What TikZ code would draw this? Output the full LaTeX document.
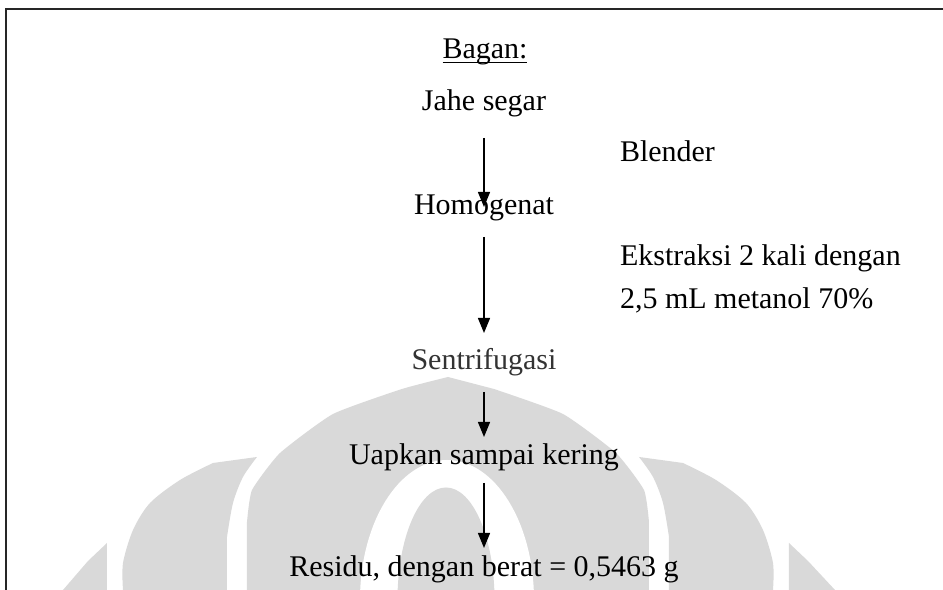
\documentclass[tikz,border=0pt]{standalone}
\usepackage{fontspec}
\setmainfont{Liberation Serif}
\usetikzlibrary{arrows.meta}

\begin{document}
\begin{tikzpicture}[x=0.4pt, y=-0.4pt, line join=miter,
	lbl/.style={inner sep=0pt, outer sep=0pt, anchor=base, text height=8.2pt, text depth=2.6pt, font=\fontsize{12pt}{14pt}\selectfont},
	flow/.style={-{Triangle[width=4.8pt, length=6pt]}, line width=0.5pt},
	wm/.style={fill=black!15}]
	\useasboundingbox (0,0) rectangle (943,590);
	
	% Latar: logo samar
	\begin{scope}
		\clip (0,0) rectangle (943,590);
		\fill[wm] (247,590) -- plot[smooth, tension=0.3] coordinates {(247,522) (252,490) (280,453) (333,414) (402,389) (448,377)} -- plot[smooth, tension=0.3] coordinates {(494,389) (563,414) (616,453) (644,490) (649,522)} -- (649,590) -- cycle;
		\fill[white] (447,600) ellipse [x radius=34.8pt, y radius=56pt];
		\fill[wm] (446,600) ellipse [x radius=19.4pt, y radius=45pt];
		\fill[wm] (227,590) -- plot[smooth] coordinates {(227,537) (233,503) (243,477) (257,457)} -- plot[smooth] coordinates {(213,463) (180,480) (150,503) (133,530) (123,563) (123,590)} -- cycle;
		\fill[wm] (669,590) -- plot[smooth] coordinates {(669,537) (663,503) (653,477) (639,457)} -- plot[smooth] coordinates {(683,463) (716,480) (746,503) (763,530) (773,563) (773,590)} -- cycle;
		\fill[wm] (107,590) -- (107,543) -- (88,561) -- (63,590) -- cycle;
		\fill[wm] (789,590) -- (789,543) -- (808,561) -- (835,590) -- cycle;
	\end{scope}
	
	% Bingkai
	\draw[line width=0.6pt, black!85] (6,590) -- (6,9) -- (943,9);
	
	% Bagan
	\node[lbl] (judul) at (485,59) {\underline{\raisebox{0pt}[\height][0pt]{Bagan:}}};
	\node[lbl] (jahe) at (484,111) {Jahe segar};
	\node[lbl] (homog) at (484,215) {Homogenat};
	\node[lbl] (sentri) at (484,370) [text=black!80] {Sentrifugasi};
	\node[lbl] (uapkan) at (484,465) {Uapkan sampai kering};
	\node[lbl] (residu) at (484,577) {Residu, dengan berat = 0,5463 g};
	
	% Keterangan
	\node[lbl, anchor=base west] (blender) at (620,162) {Blender};
	\node[lbl, anchor=base west] (ekstr) at (620,266) {Ekstraksi 2 kali dengan};
	\node[lbl, anchor=base west] (metanol) at (620,309) {2,5 mL metanol 70\%};
	
	% Panah
	\draw[flow] ([yshift=-8.2pt]jahe.south) -- ([yshift=-5pt]homog.north);
	\draw[flow] ([yshift=-6.2pt]homog.south) -- ([yshift=6.6pt]sentri.north);
	\draw[flow] ([yshift=-6.2pt]sentri.south) -- ([yshift=3pt]uapkan.north);
	\draw[flow] ([yshift=-4.6pt]uapkan.south) -- ([yshift=3.4pt]residu.north);
	
\end{tikzpicture}
\end{document}
